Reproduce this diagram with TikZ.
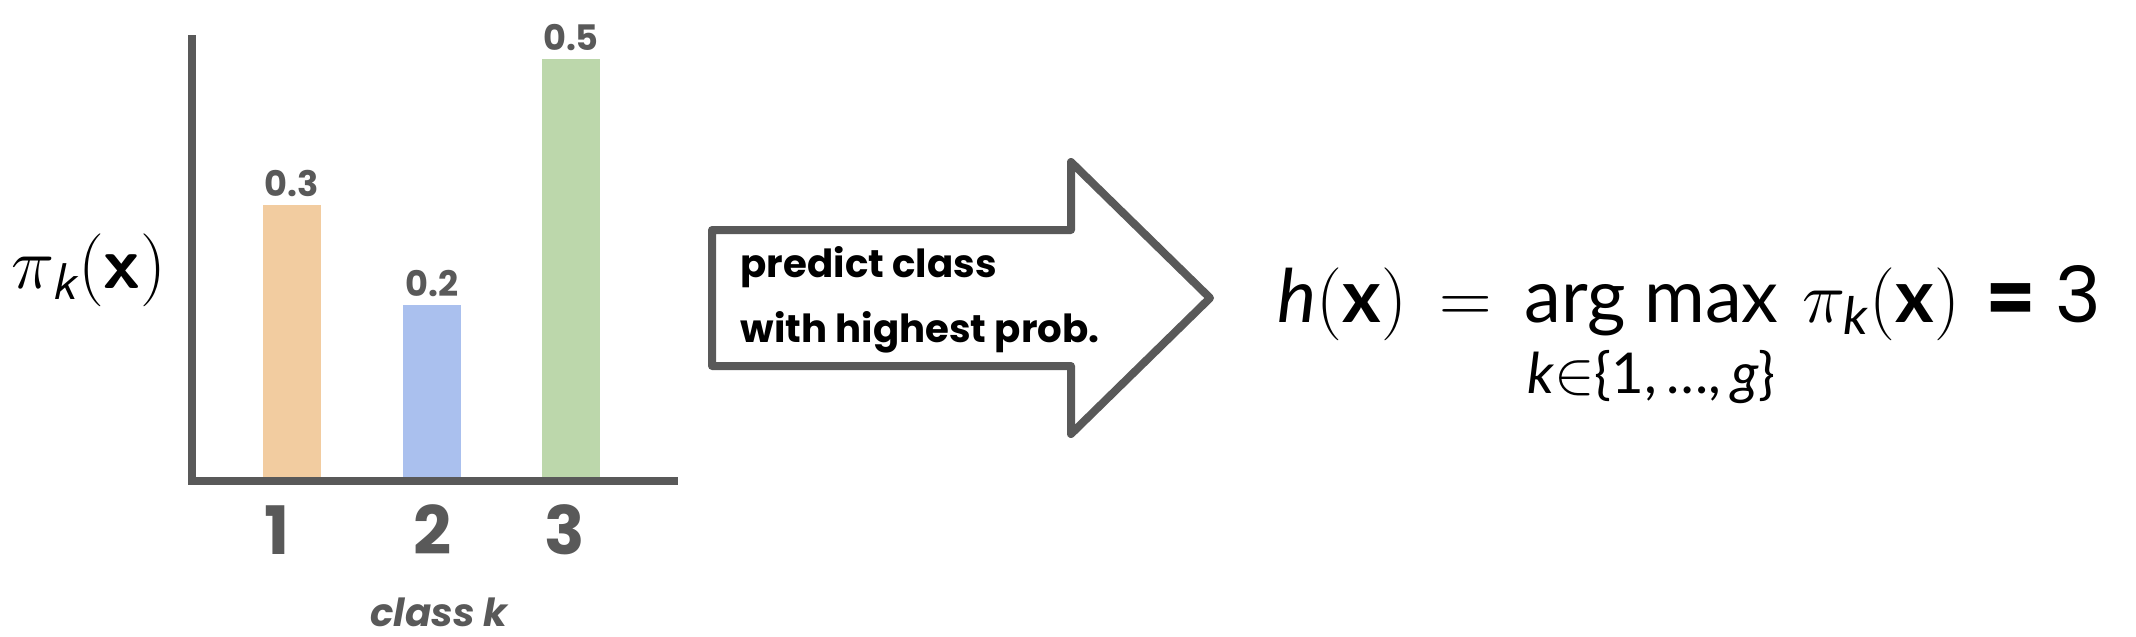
\documentclass[tikz,border=0pt]{standalone}
\usepackage{amsmath}
\usepackage{amssymb}
\usepackage{fontspec}
\setmainfont{Lato}
\newfontfamily\popfont{Poppins}
\usetikzlibrary{positioning}
\definecolor{axisgray}{HTML}{595959}
\definecolor{barorange}{HTML}{F2CCA0}
\definecolor{barblue}{HTML}{AAC0EE}
\definecolor{bargreen}{HTML}{BCD7AB}

\begin{document}
\begin{tikzpicture}[x=0.01cm,y=-0.01cm,
    axisline/.style={draw=axisgray,line width=0.08cm},
    barlabel/.style={anchor=south,inner sep=0pt,text=axisgray,font=\popfont\bfseries\fontsize{10}{12}\selectfont},
    ticklabel/.style={inner sep=0pt,text=axisgray,font=\popfont\bfseries\fontsize{19}{22}\selectfont},
    arrowtext/.style={anchor=base west,inner sep=0pt,font=\popfont\bfseries\fontsize{11}{13}\selectfont}]
    \useasboundingbox (0,0) rectangle (2136,636);
    % bars with their values
    \foreach \i/\x/\top/\c/\p in {1/263/205/barorange/0.3,2/403/305/barblue/0.2,3/542/59/bargreen/0.5}
    {
    \fill[\c] (\x,\top) rectangle (\x+58,479);
    \node[barlabel] (val\i) at (\x+29,\top-8) {\p};
    }
    \draw[axisline] (192,35) -- (192,481) -- (678,481);
    \foreach \i/\x in {1/277,2/433,3/565}
    \node[ticklabel] (tick\i) at (\x,530) {\i};
    \node[inner sep=0pt,text=axisgray,font=\popfont\bfseries\itshape\fontsize{11}{13}\selectfont] (xlab) at (439,612) {class k};
    \node[inner sep=0pt,font=\fontsize{21}{25}\selectfont] (ylab) at (89,270) {$\pi_{\textsf{\itshape k}}(\textsf{\bfseries x})$};
    % big arrow
    \draw[draw=axisgray,line width=0.08cm,line join=round]
    (712,230) -- (1071,230) -- (1071,162) -- (1210,298) -- (1071,434) -- (1071,366) -- (712,366) -- cycle;
    \node[arrowtext] (pred) at (740,277) {predict class};
    \node[arrowtext] (high) at (740,342) {with highest prob.};
    % decision rule
    \node[anchor=base west,inner sep=0pt,font=\fontsize{21}{25}\selectfont] (rule) at (1277,322)
    {$\textit{h}(\textbf{x}) \,=\, \mathop{\text{arg max}}\limits_{\raisebox{-4pt}{\fontsize{16}{18}\selectfont\textit{k}$\in$\{1,\,\ldots,\,\textit{g}\}}} \,\pi_{\textit{k}}(\textbf{x})$};
    \node[right=0.25cm of rule.base east,anchor=base west,inner sep=0pt,font=\popfont\fontsize{22}{26}\selectfont] (res) {{\fontsize{20}{24}\selectfont\bfseries =} 3};
\end{tikzpicture}
\end{document}
